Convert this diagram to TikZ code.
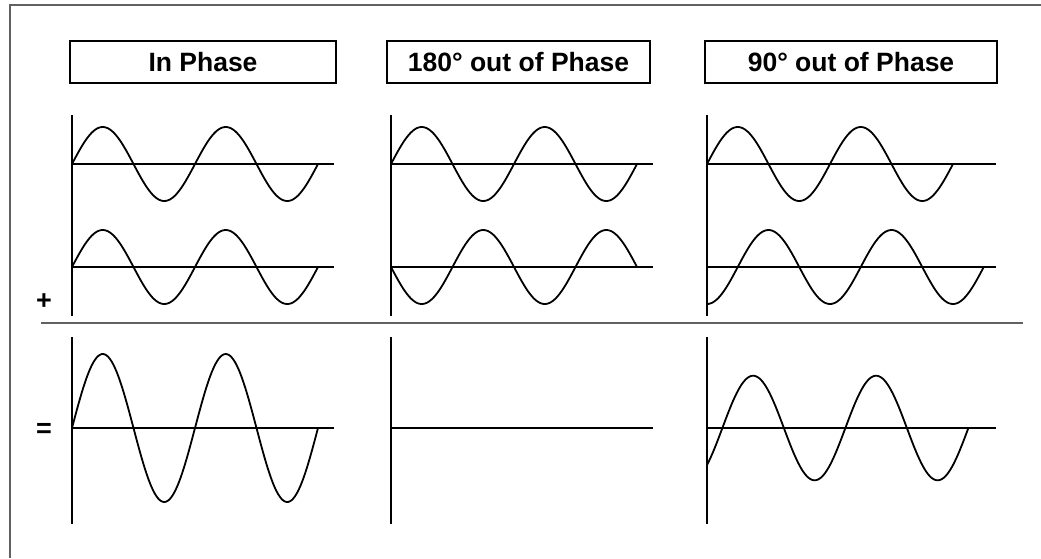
\documentclass[tikz,border=0pt]{standalone}
\usepackage{fontspec}
\setmainfont{Liberation Sans}
\usetikzlibrary{positioning}

\begin{document}
\begin{tikzpicture}[x=1pt, y=-1pt,
  titlebox/.style={draw, line width=1.8pt, minimum height=42pt, inner sep=0pt, font=\fontsize{26.5}{30}\selectfont\bfseries},
  sign/.style={inner sep=0pt, font=\fontsize{27}{30}\selectfont\bfseries},
  axisline/.style={line width=1.8pt},
  wave/.style={line width=1.8pt, samples=150, smooth},
  frameline/.style={draw=black!62, line width=1.6pt}
]
  \useasboundingbox (0,0) rectangle (1041,558);
  % outer frame and separator
  \draw[frameline] (10,558) -- (10,5) -- (1041,5);
  \draw[frameline] (41,323) -- (1023,323);

  % titles
  \node[titlebox, minimum width=266pt] (inphase) at (203,62) {In Phase};
  \node[titlebox, minimum width=263pt] (oppphase) at (518.5,62) {180° out of Phase};
  \node[titlebox, minimum width=292pt] (quadphase) at (851,62) {90° out of Phase};

  \node[sign] (plus) at (44,302) {+};
  \node[sign] (equals) at (44,430) {=};

  % axes
  \foreach \xo/\len in {72/262, 391/262, 707/289} {
    \draw[axisline] (\xo,115) -- (\xo,316);
    \draw[axisline] (\xo,337) -- (\xo,524);
    \draw[axisline] (\xo,164) -- ++(\len,0);
    \draw[axisline] (\xo,267) -- ++(\len,0);
    \draw[axisline] (\xo,428) -- ++(\len,0);
  }

  % in phase
  \draw[wave] plot[domain=0:246] ({72+\x},{164-37*sin(\x/123*360)});
  \draw[wave] plot[domain=0:246] ({72+\x},{267-37*sin(\x/123*360)});
  \draw[wave] plot[domain=0:246] ({72+\x},{428-74*sin(\x/123*360)});

  % 180 degrees
  \draw[wave] plot[domain=0:246] ({391+\x},{164-37*sin(\x/123*360)});
  \draw[wave] plot[domain=0:246] ({391+\x},{267+37*sin(\x/123*360)});

  % 90 degrees
  \draw[wave] plot[domain=0:246] ({707+\x},{164-37*sin(\x/123*360)});
  \draw[wave] plot[domain=0:277] ({707+\x},{267+37*cos(\x/123*360)});
  \draw[wave] plot[domain=0:261.4] ({707+\x},{428-52.3*sin(\x/123*360-45)});
\end{tikzpicture}
\end{document}
